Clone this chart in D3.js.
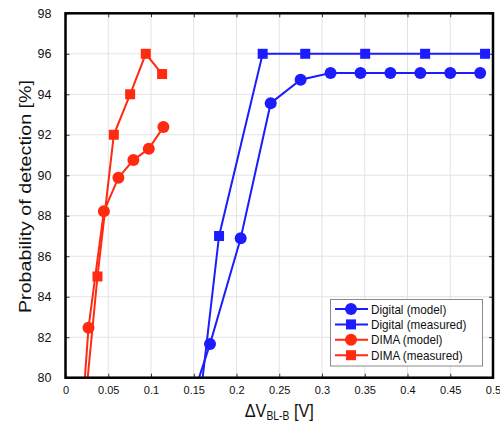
<!DOCTYPE html>
<html>
<head>
<meta charset="utf-8">
<script src="https://cdn.jsdelivr.net/npm/d3@7"></script>
<style>
  html, body { margin: 0; padding: 0; background: #fff; }
  svg { display: block; font-family: "Liberation Sans", Arial, Helvetica, sans-serif; }
</style>
</head>
<body>
<svg id="chart" width="500" height="424"></svg>
<script>
// Detection probability vs. bit-line voltage swing
const digitalModelX = [0.140, 0.169, 0.2049, 0.240, 0.275, 0.310, 0.345, 0.380, 0.415, 0.450, 0.485];
const digitalModelY = [77.9, 81.66, 86.89, 93.56, 94.72, 95.05, 95.05, 95.05, 95.05, 95.05, 95.05];
const digitalMeasX = [0.150, 0.1796, 0.2306, 0.2804, 0.3505, 0.4206, 0.4907];
const digitalMeasY = [76.2, 87, 96, 96, 96, 96, 96];
const dimaModelX = [0.015, 0.0269, 0.0449, 0.0619, 0.0794, 0.0974, 0.1145];
const dimaModelY = [75.5, 82.47, 88.22, 89.88, 90.75, 91.31, 92.38];
const dimaMeasX = [0.020, 0.0374, 0.0565, 0.0756, 0.0939, 0.113];
const dimaMeasY = [77.4, 85, 92, 94, 96, 95];

const xTicks = [0, 0.05, 0.1, 0.15, 0.2, 0.25, 0.3, 0.35, 0.4, 0.45, 0.5];
const yTicks = [80, 82, 84, 86, 88, 90, 92, 94, 96, 98];
const seriesNames = ["Digital (model)", "Digital (measured)", "DIMA (model)", "DIMA (measured)"];

const BLUE = "#1c1cff";
const RED = "#ff2a10";
const TEXT_SX = 0.86; // condensed lettering for titles and legend

const series = [
  { name: seriesNames[0], xs: digitalModelX, ys: digitalModelY, color: BLUE, marker: "circle" },
  { name: seriesNames[1], xs: digitalMeasX, ys: digitalMeasY, color: BLUE, marker: "square" },
  { name: seriesNames[2], xs: dimaModelX, ys: dimaModelY, color: RED, marker: "circle" },
  { name: seriesNames[3], xs: dimaMeasX, ys: dimaMeasY, color: RED, marker: "square" }
];

const plot = { left: 65.5, right: 493, top: 13.3, bottom: 377.7 };
const svg = d3.select("#chart");

const x = d3.scaleLinear().domain([0, 0.5]).range([plot.left, plot.right]);
const y = d3.scaleLinear().domain([80, 98]).range([plot.bottom, plot.top]);

svg.append("defs").append("clipPath").attr("id", "plotClip")
  .append("rect")
  .attr("x", plot.left).attr("y", plot.top)
  .attr("width", plot.right - plot.left).attr("height", plot.bottom - plot.top);

// grid
const grid = svg.append("g").attr("stroke", "#e3e3e3").attr("stroke-width", 1);
grid.selectAll("line.gx").data(xTicks).join("line")
  .attr("x1", d => x(d)).attr("x2", d => x(d))
  .attr("y1", plot.top).attr("y2", plot.bottom);
grid.selectAll("line.gy").data(yTicks).join("line")
  .attr("x1", plot.left).attr("x2", plot.right)
  .attr("y1", d => y(d)).attr("y2", d => y(d));

// axes (inward ticks on all four sides)
const tickLen = 4;
const axBottom = svg.append("g").attr("transform", `translate(0,${plot.bottom})`)
  .call(d3.axisBottom(x).tickValues(xTicks).tickSize(-tickLen).tickPadding(9)
    .tickFormat(d => d === 0 ? "0" : String(+d.toFixed(2))));
const axTop = svg.append("g").attr("transform", `translate(0,${plot.top})`)
  .call(d3.axisTop(x).tickValues(xTicks).tickSize(-tickLen).tickFormat(""));
const axLeft = svg.append("g").attr("transform", `translate(${plot.left},0)`)
  .call(d3.axisLeft(y).tickValues(yTicks).tickSize(-tickLen).tickPadding(14));
const axRight = svg.append("g").attr("transform", `translate(${plot.right},0)`)
  .call(d3.axisRight(y).tickValues(yTicks).tickSize(-tickLen).tickFormat(""));

[axBottom, axTop, axLeft, axRight].forEach(a => {
  a.select(".domain").remove();
  a.selectAll(".tick line").attr("stroke", "#333").attr("stroke-width", 1);
});
axBottom.selectAll("text").attr("font-size", 11).attr("fill", "#111")
  .attr("font-family", "'Liberation Sans', Arial, sans-serif");
axLeft.selectAll("text").attr("font-size", 12.5).attr("fill", "#111")
  .attr("font-family", "'Liberation Sans', Arial, sans-serif");

// data
const dataLayer = svg.append("g").attr("clip-path", "url(#plotClip)");
const line = d3.line().x(d => x(d[0])).y(d => y(d[1]));

function drawMarker(sel, kind, color) {
  if (kind === "circle") {
    sel.append("circle").attr("r", 6).attr("fill", color);
  } else {
    sel.append("rect").attr("x", -5).attr("y", -5).attr("width", 10).attr("height", 10).attr("fill", color);
  }
}

series.forEach(s => {
  const pts = s.xs.map((xv, i) => [xv, s.ys[i]]);
  dataLayer.append("path").datum(pts)
    .attr("d", line).attr("fill", "none")
    .attr("stroke", s.color).attr("stroke-width", 2);
  pts.filter(p => p[1] >= 80 && p[1] <= 98).forEach(p => {
    const g = dataLayer.append("g").attr("transform", `translate(${x(p[0])},${y(p[1])})`);
    drawMarker(g, s.marker, s.color);
  });
});

// frame
svg.append("rect")
  .attr("x", plot.left).attr("y", plot.top)
  .attr("width", plot.right - plot.left).attr("height", plot.bottom - plot.top)
  .attr("fill", "none").attr("stroke", "#000").attr("stroke-width", 2.5);

// axis titles
svg.append("text")
  .attr("transform", `translate(31,${(plot.top + plot.bottom) / 2 + 1}) scale(${TEXT_SX},1) rotate(-90)`)
  .attr("text-anchor", "middle").attr("font-size", 19.7).attr("fill", "#111")
  .text("Probability of detection [%]");

const xt = svg.append("text")
  .attr("transform", `translate(${(plot.left + plot.right) / 2},416.5) scale(${TEXT_SX},1)`)
  .attr("text-anchor", "middle").attr("font-size", 19).attr("fill", "#111");
xt.append("tspan").text("ΔV");
xt.append("tspan").attr("font-size", 12).attr("dy", 3.5).text("BL-B");
xt.append("tspan").attr("dy", -3.5).text(" [V]");

// legend
const leg = svg.append("g");
leg.append("rect")
  .attr("x", 330.5).attr("y", 299.5).attr("width", 152).attr("height", 66.5)
  .attr("fill", "#fff").attr("stroke", "#8a8a8a").attr("stroke-width", 1);
series.forEach((s, i) => {
  const cy = 309 + i * 15.4;
  const row = leg.append("g").attr("transform", `translate(0,${cy})`);
  row.append("line").attr("x1", 335).attr("x2", 368).attr("y1", 0).attr("y2", 0)
    .attr("stroke", s.color).attr("stroke-width", 2);
  const m = row.append("g").attr("transform", "translate(351,0)");
  drawMarker(m, s.marker, s.color);
  row.append("text").attr("transform", `translate(371,4.6) scale(${TEXT_SX},1)`)
    .attr("font-size", 13.6).attr("fill", "#111").text(s.name);
});
</script>
</body>
</html>
